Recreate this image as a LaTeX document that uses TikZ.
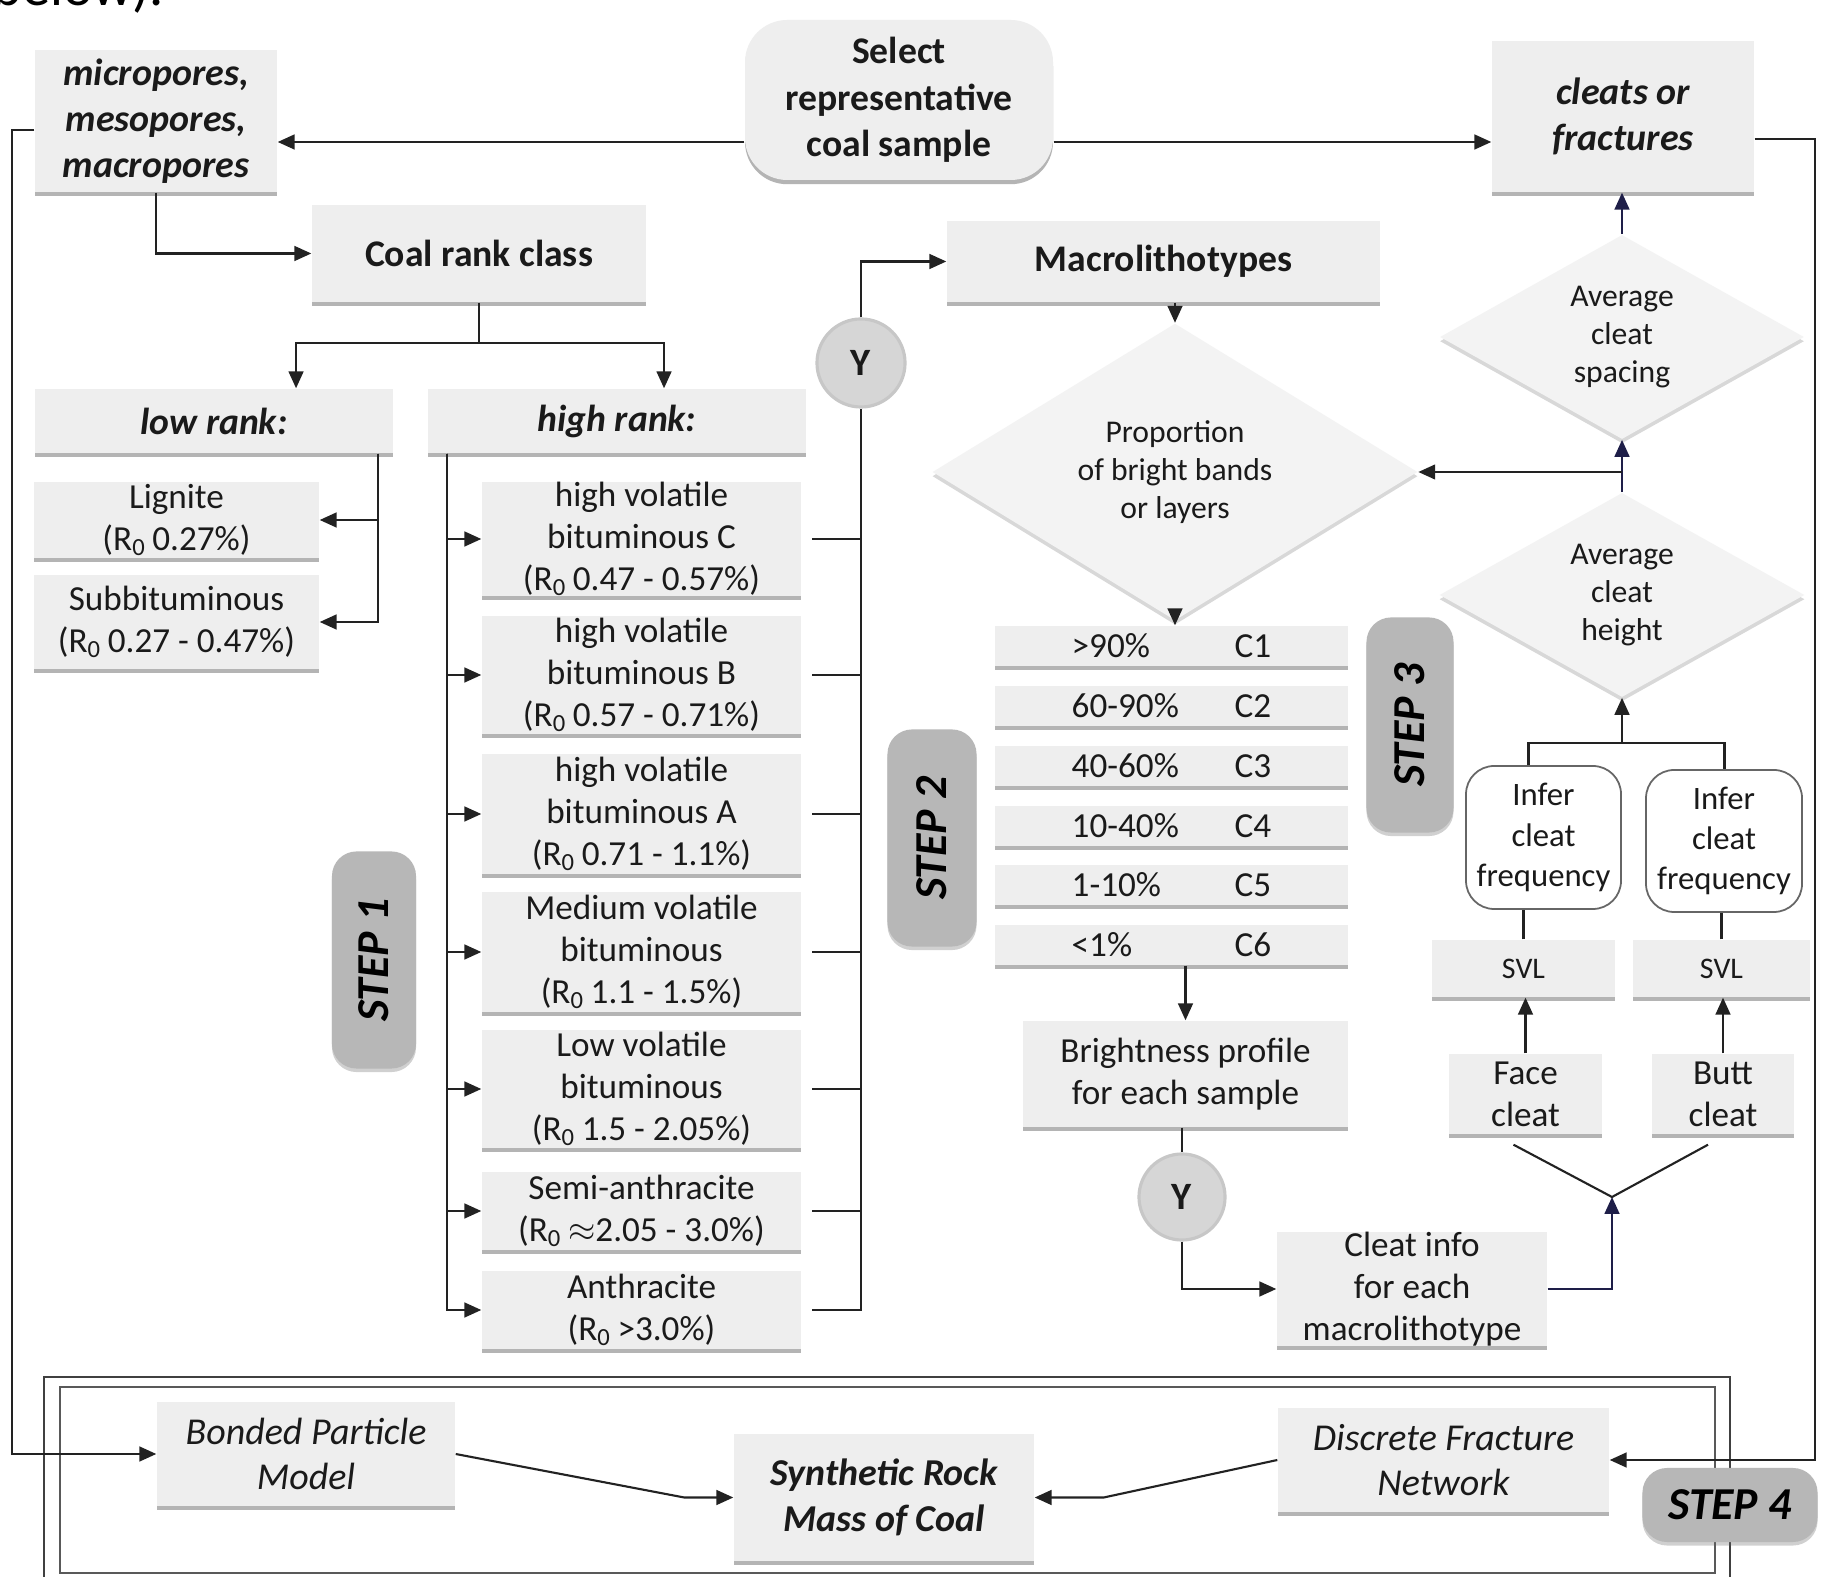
\documentclass[tikz,border=0pt]{standalone}
\usepackage{fontspec}
\setmainfont{Carlito}
\usetikzlibrary{arrows.meta,shapes.geometric,shadows,calc}

\definecolor{boxfill}{HTML}{EEEEEE}
\definecolor{lncol}{HTML}{222222}
\definecolor{navy}{HTML}{1E1E48}
\definecolor{stepfill}{HTML}{B7B7B7}
\definecolor{circfill}{HTML}{D6D6D6}
\definecolor{diafill}{HTML}{F3F3F3}
\definecolor{txt}{HTML}{1A1A1A}

\newcommand\fsN{\fontsize{10}{12}\selectfont}
\newcommand\fsB{\fontsize{10.7}{13.2}\selectfont}
\newcommand\fsD{\fontsize{9}{10.7}\selectfont}
\newcommand\fsI{\fontsize{9.3}{11.4}\selectfont}
\newcommand\fsS{\fontsize{13}{15}\selectfont}
\newcommand\fsL{\fontsize{10.8}{13}\selectfont}
\newcommand\Ro{R\textsubscript{0}\,}
% box from corners: style, name, x1, y1, x2, y2, text
\newcommand\BX[7]{\node[#1, minimum width={((#5)-(#3))*0.01cm}, minimum height={((#6)-(#4))*0.01cm}] (#2) at ({((#3)+(#5))/2},{((#4)+(#6))/2}) {#7};}

\tikzset{
  gbox/.style={fill=boxfill, inner sep=0pt, align=center, text=txt,
    drop shadow={shadow xshift=0pt, shadow yshift=-1.2pt, opacity=0.45, fill=black!65}},
  dia/.style={diamond, fill=diafill, inner sep=0pt, align=center, text=txt, font=\fsD,
    drop shadow={shadow xshift=0pt, shadow yshift=-1.2pt, opacity=0.25, fill=black!60}},
  stepbox/.style={fill=stepfill, rounded corners=7pt, inner sep=0pt, text=black,
    font=\fsS\bfseries\itshape,
    drop shadow={shadow xshift=0pt, shadow yshift=-1pt, opacity=0.3, fill=black!60}},
  ycirc/.style={circle, fill=circfill, draw=black!22, line width=0.9pt, minimum size=0.88cm,
    inner sep=0pt, font=\fontsize{11}{13}\selectfont\bfseries, text=txt},
  infbox/.style={fill=white, draw=black!60, line width=0.5pt, rounded corners=8pt,
    inner sep=0pt, align=center, font=\fsI, text=txt},
  ln/.style={draw=lncol, line width=0.6pt},
  arr/.style={draw=lncol, line width=0.6pt, -{Triangle[length=4.8pt,width=4.2pt]}},
  narr/.style={draw=navy, line width=0.6pt, -{Triangle[length=4.8pt,width=4.2pt]}},
  lab/.style={inner sep=0pt, anchor=west, font=\fsN, text=txt}
}

\begin{document}
\begin{tikzpicture}[x=0.01cm, y=-0.01cm]
\useasboundingbox (0,0) rectangle (1821,1577);
\fill[white] (0,0) rectangle (1821,1577);

% cut-off text at the very top
\node[anchor=base west, inner sep=0pt, font=\fontsize{16}{18}\selectfont, text=black] (below) at (-8,6) {below).};

% helper rows for y levels
\coordinate (ya) at (0,142);
\coordinate (yb) at (0,139);
\coordinate (yc) at (0,130);

% ---------- top row ----------
\BX{gbox, font=\fsL\bfseries\itshape}{mp}{35}{50}{277}{192}{micropores,\\mesopores,\\macropores}
\BX{gbox, rounded corners=12pt, font=\fsB\bfseries}{sel}{745}{20}{1053}{180}{Select\\representative\\coal sample}
\BX{gbox, font=\fsL\bfseries\itshape}{cf}{1492}{41}{1754}{192}{cleats or\\fractures}

% ---------- step 1 ----------
\BX{gbox, font=\fsB\bfseries}{crc}{312}{205}{646}{302}{Coal rank class}
\BX{gbox, font=\fsB\bfseries\itshape}{low}{35}{389}{393}{453}{low rank:}
\BX{gbox, font=\fsB\bfseries\itshape}{high}{428}{389}{806}{453}{high rank:}
\BX{gbox, font=\fsN}{lig}{34}{482}{319}{558}{Lignite\\(\Ro0.27\%)}
\BX{gbox, font=\fsN}{sub}{34}{575}{319}{669}{Subbituminous\\(\Ro0.27 - 0.47\%)}

\BX{gbox, font=\fsN}{hvc}{482}{482}{801}{596}{high volatile\\bituminous C\\(\Ro0.47 - 0.57\%)}
\BX{gbox, font=\fsN}{hvb}{482}{616}{801}{734}{high volatile\\bituminous B\\(\Ro0.57 - 0.71\%)}
\BX{gbox, font=\fsN}{hva}{482}{754}{801}{874}{high volatile\\bituminous A\\(\Ro0.71 - 1.1\%)}
\BX{gbox, font=\fsN}{med}{482}{892}{801}{1012}{Medium volatile\\bituminous\\(\Ro1.1 - 1.5\%)}
\BX{gbox, font=\fsN}{lvb}{482}{1030}{801}{1148}{Low volatile\\bituminous\\(\Ro1.5 - 2.05\%)}
\BX{gbox, font=\fsN}{semi}{482}{1172}{801}{1250}{Semi-anthracite\\(\Ro$\approx$2.05 - 3.0\%)}
\BX{gbox, font=\fsN}{anth}{482}{1271}{801}{1349}{Anthracite\\(\Ro>3.0\%)}

\node[stepbox, rotate=90, minimum width=2.17cm, minimum height=0.84cm] (s1) at (374,960) {STEP 1};
\node[ycirc] (y1) at (861,363) {Y};

% ---------- step 2 ----------
\BX{gbox, font=\fsB\bfseries}{mac}{947}{221}{1380}{302}{Macrolithotypes}
\node[dia, minimum width=4.85cm, minimum height=2.04cm] (prop) at (1175,472) {Proportion\\of bright bands\\or layers};

\foreach \i/\c/\p/\k in {1/646/{>90\%}/C1, 2/706/60-90\%/C2, 3/766/40-60\%/C3, 4/826/10-40\%/C4, 5/885/1-10\%/C5, 6/945/{<1\%}/C6}{
  \BX{gbox}{r\i}{995}{\c-20}{1348}{\c+20}{}
  \node[lab] (rp\i) at (1071,\c) {\p};
  \node[lab] (rc\i) at (1234,\c) {\k};
}
\node[stepbox, rotate=90, minimum width=2.17cm, minimum height=0.89cm] (s2) at (932,838) {STEP 2};

\BX{gbox, font=\fsN}{bright}{1023}{1021}{1348}{1127}{Brightness profile\\for each sample}
\node[ycirc, minimum size=0.86cm] (y2) at (1182,1197) {Y};
\BX{gbox, font=\fsN}{ci}{1277}{1233}{1547}{1345}{Cleat info\\for each\\macrolithotype}

% ---------- step 3 ----------
\node[dia, minimum width=3.64cm, minimum height=1.6cm] (sp) at (1622,337) {Average\\cleat\\spacing};
\node[dia, minimum width=3.65cm, minimum height=1.7cm] (ht) at (1622,595) {Average\\cleat\\height};
\node[stepbox, rotate=90, minimum width=2.15cm, minimum height=0.87cm] (s3) at (1410,725) {STEP 3};

\BX{infbox}{inf1}{1466}{766}{1621}{909}{Infer\\cleat\\frequency}
\BX{infbox}{inf2}{1646}{770}{1802}{912}{Infer\\cleat\\frequency}
\BX{gbox, font=\fontsize{8.5}{10}\selectfont}{svl1}{1432}{940}{1615}{997}{SVL}
\BX{gbox, font=\fontsize{8.5}{10}\selectfont}{svl2}{1633}{940}{1810}{997}{SVL}
\BX{gbox, font=\fsN}{face}{1449}{1054}{1602}{1134}{Face\\cleat}
\BX{gbox, font=\fsN}{butt}{1652}{1054}{1794}{1134}{Butt\\cleat}
\coordinate (vj) at (1612,1197);
\coordinate (jt) at (1622,743);

% ---------- step 4 ----------
\draw[draw=black!75, line width=0.5pt] (44,1377) rectangle (1730,1595);
\draw[draw=black!65, line width=0.5pt] (60,1387) rectangle (1715,1573);
\BX{gbox, font=\fsL\itshape}{bpm}{157}{1402}{455}{1506}{Bonded Particle\\Model}
\BX{gbox, font=\fsL\bfseries\itshape}{srm}{734}{1434}{1034}{1561}{Synthetic Rock\\Mass of Coal}
\BX{gbox, font=\fsL\itshape}{dfn}{1278}{1408}{1609}{1512}{Discrete Fracture\\Network}
\node[stepbox, minimum width=1.75cm, minimum height=0.74cm] (s4) at (1730,1505) {STEP 4};

% ---------- connectors ----------
\draw[arr] (sel.west |- ya) -- (mp.east |- ya);
\draw[arr] (sel.east |- ya) -- (cf.west |- ya);
\draw[arr] (mp.west |- yc) -- ++(-22,0) |- (bpm.west);
\draw[arr] (cf.east |- yb) -- ++(60,0) |- (dfn.east);

\draw[arr] (mp.south) |- (crc.west);
\draw[ln] (crc.south) -- ++(0,40) coordinate (j1);
\draw[arr] (j1) -| ([xshift=0.82cm]low.north);
\draw[arr] (j1) -| ([xshift=0.47cm]high.north);

\draw[arr] ([xshift=1.64cm]low.south) |- (lig.east);
\draw[arr] ([xshift=1.64cm]low.south) |- (sub.east);

\foreach \b in {hvc,hvb,hva,med,lvb,semi,anth}{
  \draw[arr] ([xshift=-1.70cm]high.south) |- (\b.west);
}
\foreach \b in {hvc,hvb,hva,med,lvb,semi}{
  \draw[ln] ([xshift=3pt]\b.east) -- (\b.east -| y1);
}
\draw[ln] ([xshift=3pt]anth.east) -| (y1.south);
\draw[arr] (y1.north) |- (mac.west);

\draw[arr] (mac.south -| prop.north) -- (prop.north);
\draw[arr] (prop.south) -- (prop.south |- r1.north);
\draw[arr] (r6.south -| bright.north) -- (bright.north);
\draw[ln] (bright.south -| y2) -- (y2.north);
\draw[arr] (y2.south) |- (ci.west);
\draw[narr] (ci.east) -| (vj);
\draw[ln] ($(face.south)+(-12,10)$) -- (vj) -- ($(butt.south)+(-15,10)$);

\draw[arr] (face.north) -- (face.north |- svl1.south);
\draw[arr] (butt.north) -- (butt.north |- svl2.south);
\draw[ln] (svl1.north) -- (svl1.north |- inf1.south);
\draw[ln] (svl2.north) -- (svl2.north |- inf2.south);
\draw[ln] ([xshift=0.05cm]svl1.north |- inf1.north) |- (jt) -| ([xshift=0.03cm]svl2.north |- inf2.north);
\draw[arr] (jt) -- (ht.south);
\draw[narr] (ht.north) -- (sp.south);
\draw[arr] (sp.south |- prop.east) -- (prop.east);
\draw[narr] (sp.north) -- (sp.north |- cf.south);

\draw[arr] (bpm.east) -- ($(srm.west)+(-49,0)$) -- (srm.west);
\draw[arr] (dfn.west) -- ($(srm.east)+(69,0)$) -- (srm.east);
\end{tikzpicture}
\end{document}
